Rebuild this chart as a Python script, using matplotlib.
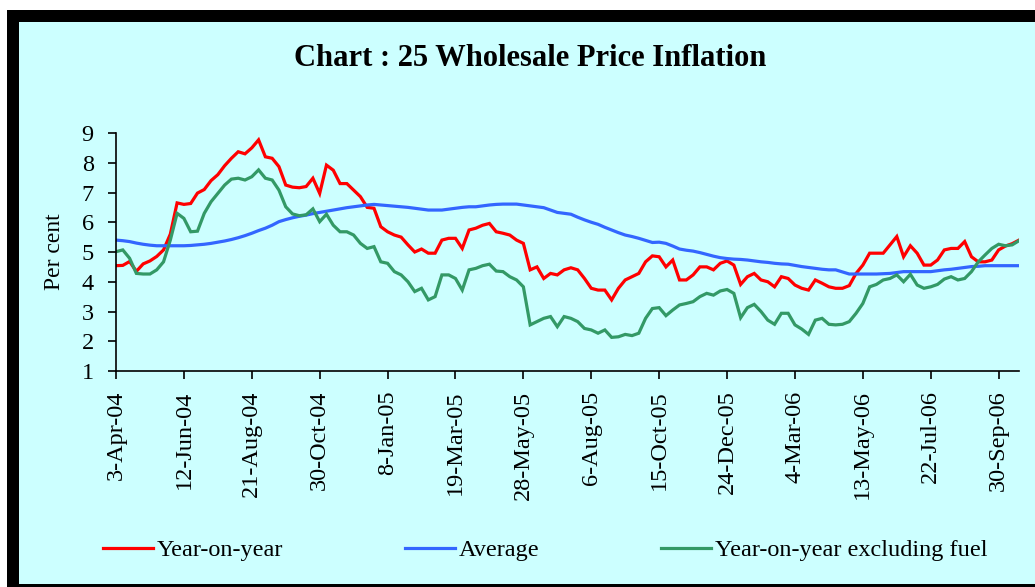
import matplotlib
matplotlib.use("Agg")
import matplotlib.pyplot as plt
from matplotlib.patches import Rectangle
import pandas as pd

# weekly observations, 3-Apr-04 onwards
start_date = "2004-04-03"

year_on_year = [
    4.54, 4.55, 4.68, 4.35, 4.60, 4.70, 4.85, 5.07, 5.60, 6.65,
    6.60, 6.63, 6.98, 7.10, 7.40, 7.60, 7.90, 8.15, 8.37, 8.30,
    8.50, 8.77, 8.20, 8.15, 7.87, 7.25, 7.18, 7.16, 7.20, 7.48,
    6.97, 7.92, 7.75, 7.30, 7.30, 7.08, 6.86, 6.50, 6.47, 5.85,
    5.68, 5.57, 5.50, 5.24, 5.00, 5.10, 4.96, 4.96, 5.40, 5.46,
    5.46, 5.12, 5.74, 5.80, 5.90, 5.96, 5.68, 5.63, 5.57, 5.40,
    5.29, 4.40, 4.50, 4.11, 4.28, 4.23, 4.40, 4.47, 4.40, 4.11,
    3.78, 3.72, 3.72, 3.39, 3.78, 4.06, 4.17, 4.28, 4.67, 4.87,
    4.84, 4.50, 4.73, 4.06, 4.06, 4.23, 4.50, 4.50, 4.40, 4.62,
    4.70, 4.56, 3.91, 4.17, 4.28, 4.06, 4.00, 3.83, 4.17, 4.11,
    3.89, 3.78, 3.72, 4.06, 3.95, 3.83, 3.78, 3.78, 3.87, 4.28,
    4.56, 4.96, 4.96, 4.96, 5.24, 5.52, 4.84, 5.21, 4.96, 4.56,
    4.56, 4.73, 5.07, 5.12, 5.12, 5.35, 4.84, 4.67, 4.67, 4.73,
    5.07, 5.20, 5.28, 5.40,
]

average = [
    5.40, 5.38, 5.35, 5.30, 5.26, 5.23, 5.21, 5.21, 5.21, 5.21,
    5.21, 5.22, 5.24, 5.26, 5.29, 5.33, 5.37, 5.42, 5.48, 5.55,
    5.63, 5.72, 5.80, 5.90, 6.02, 6.09, 6.15, 6.20, 6.24, 6.29,
    6.33, 6.37, 6.41, 6.45, 6.49, 6.52, 6.55, 6.58, 6.60, 6.58,
    6.56, 6.54, 6.52, 6.50, 6.47, 6.44, 6.41, 6.41, 6.41, 6.44,
    6.47, 6.50, 6.52, 6.52, 6.55, 6.58, 6.60, 6.61, 6.61, 6.61,
    6.58, 6.55, 6.52, 6.49, 6.41, 6.33, 6.30, 6.27, 6.17, 6.08,
    6.00, 5.93, 5.83, 5.74, 5.65, 5.57, 5.52, 5.46, 5.39, 5.32,
    5.33, 5.29, 5.20, 5.10, 5.06, 5.03, 4.98, 4.92, 4.86, 4.81,
    4.78, 4.76, 4.75, 4.73, 4.70, 4.67, 4.65, 4.62, 4.60, 4.59,
    4.55, 4.51, 4.48, 4.45, 4.42, 4.40, 4.40, 4.33, 4.26, 4.26,
    4.26, 4.26, 4.26, 4.27, 4.28, 4.31, 4.34, 4.34, 4.34, 4.34,
    4.34, 4.37, 4.40, 4.42, 4.45, 4.48, 4.51, 4.52, 4.54, 4.54,
    4.54, 4.54, 4.54, 4.54,
]

excluding_fuel = [
    5.01, 5.07, 4.79, 4.28, 4.26, 4.26, 4.40, 4.67, 5.40, 6.30,
    6.13, 5.68, 5.70, 6.30, 6.69, 6.97, 7.25, 7.45, 7.48, 7.42,
    7.53, 7.76, 7.48, 7.42, 7.08, 6.52, 6.28, 6.22, 6.25, 6.45,
    6.02, 6.27, 5.90, 5.68, 5.68, 5.57, 5.29, 5.12, 5.18, 4.67,
    4.62, 4.34, 4.23, 4.00, 3.67, 3.78, 3.39, 3.50, 4.23, 4.23,
    4.11, 3.72, 4.40, 4.45, 4.54, 4.59, 4.36, 4.34, 4.17, 4.06,
    3.83, 2.55, 2.66, 2.77, 2.83, 2.49, 2.83, 2.77, 2.66, 2.43,
    2.38, 2.27, 2.38, 2.13, 2.15, 2.23, 2.19, 2.27, 2.77, 3.10,
    3.13, 2.86, 3.05, 3.22, 3.27, 3.33, 3.50, 3.61, 3.55, 3.69,
    3.74, 3.61, 2.79, 3.13, 3.24, 3.00, 2.71, 2.57, 2.94, 2.94,
    2.55, 2.41, 2.23, 2.71, 2.77, 2.57, 2.55, 2.57, 2.66, 2.94,
    3.27, 3.83, 3.91, 4.06, 4.11, 4.23, 4.00, 4.25, 3.89, 3.78,
    3.83, 3.91, 4.09, 4.17, 4.06, 4.11, 4.34, 4.67, 4.90, 5.12,
    5.26, 5.21, 5.24, 5.38,
]

series_names = ["Year-on-year", "Average", "Year-on-year excluding fuel"]
series_colors = ["#FF0000", "#3366FF", "#339966"]

dates = pd.date_range(start_date, periods=len(year_on_year), freq="7D")
x = list(range(len(dates)))
tick_idx = x[::10]
tick_labels = [f"{dates[i].day}-{dates[i]:%b-%y}" for i in tick_idx]

plt.rcParams["font.family"] = ["Liberation Serif", "DejaVu Serif"]

W, H = 1035, 587
fig = plt.figure(figsize=(W / 100, H / 100), dpi=100)
fig.patch.set_facecolor("white")

# black frame and pale cyan panel
fig.patches.append(Rectangle((7 / W, 0), 1.0, (H - 10) / H, transform=fig.transFigure,
                             facecolor="black", edgecolor="none", zorder=-2))
fig.patches.append(Rectangle((19 / W, 3 / H), 1.0, (H - 25) / H, transform=fig.transFigure,
                             facecolor="#CCFFFF", edgecolor="none", zorder=-1))

ax = fig.add_axes([116 / W, 1 - 371 / H, (1019 - 116) / W, (371 - 133) / H])
ax.set_facecolor("none")

for vals, name, col in zip([year_on_year, average, excluding_fuel], series_names, series_colors):
    ax.plot(x, vals, color=col, linewidth=2.3, label=name, solid_joinstyle="miter")

ax.set_xlim(0, len(x) - 1)
ax.set_ylim(1, 9)
ax.set_yticks(range(1, 10))
ax.set_xticks(tick_idx)
ax.set_xticklabels(tick_labels, rotation=90)
ax.tick_params(axis="x", direction="out", length=6, width=1.2, labelsize=17.5, pad=8)
ax.tick_params(axis="y", direction="out", length=6, width=1.2, labelsize=17.5, pad=10)
for s in ["top", "right"]:
    ax.spines[s].set_visible(False)
for s in ["left", "bottom"]:
    ax.spines[s].set_linewidth(1.2)
ax.set_ylabel("Per cent", fontsize=17, labelpad=12)

fig.text(530 / W, 1 - 58 / H, "Chart : 25 Wholesale Price Inflation", ha="center", va="center",
         fontsize=22, fontweight="bold")

handles, labels = ax.get_legend_handles_labels()
fig.legend(handles, labels, loc="center left", bbox_to_anchor=(103 / W, 1 - 550 / H), ncol=3,
           frameon=False, fontsize=17.5, handlelength=2.06, handletextpad=0.16, columnspacing=5.0,
           borderaxespad=0, borderpad=0)

fig.savefig("out.png", dpi=100)
